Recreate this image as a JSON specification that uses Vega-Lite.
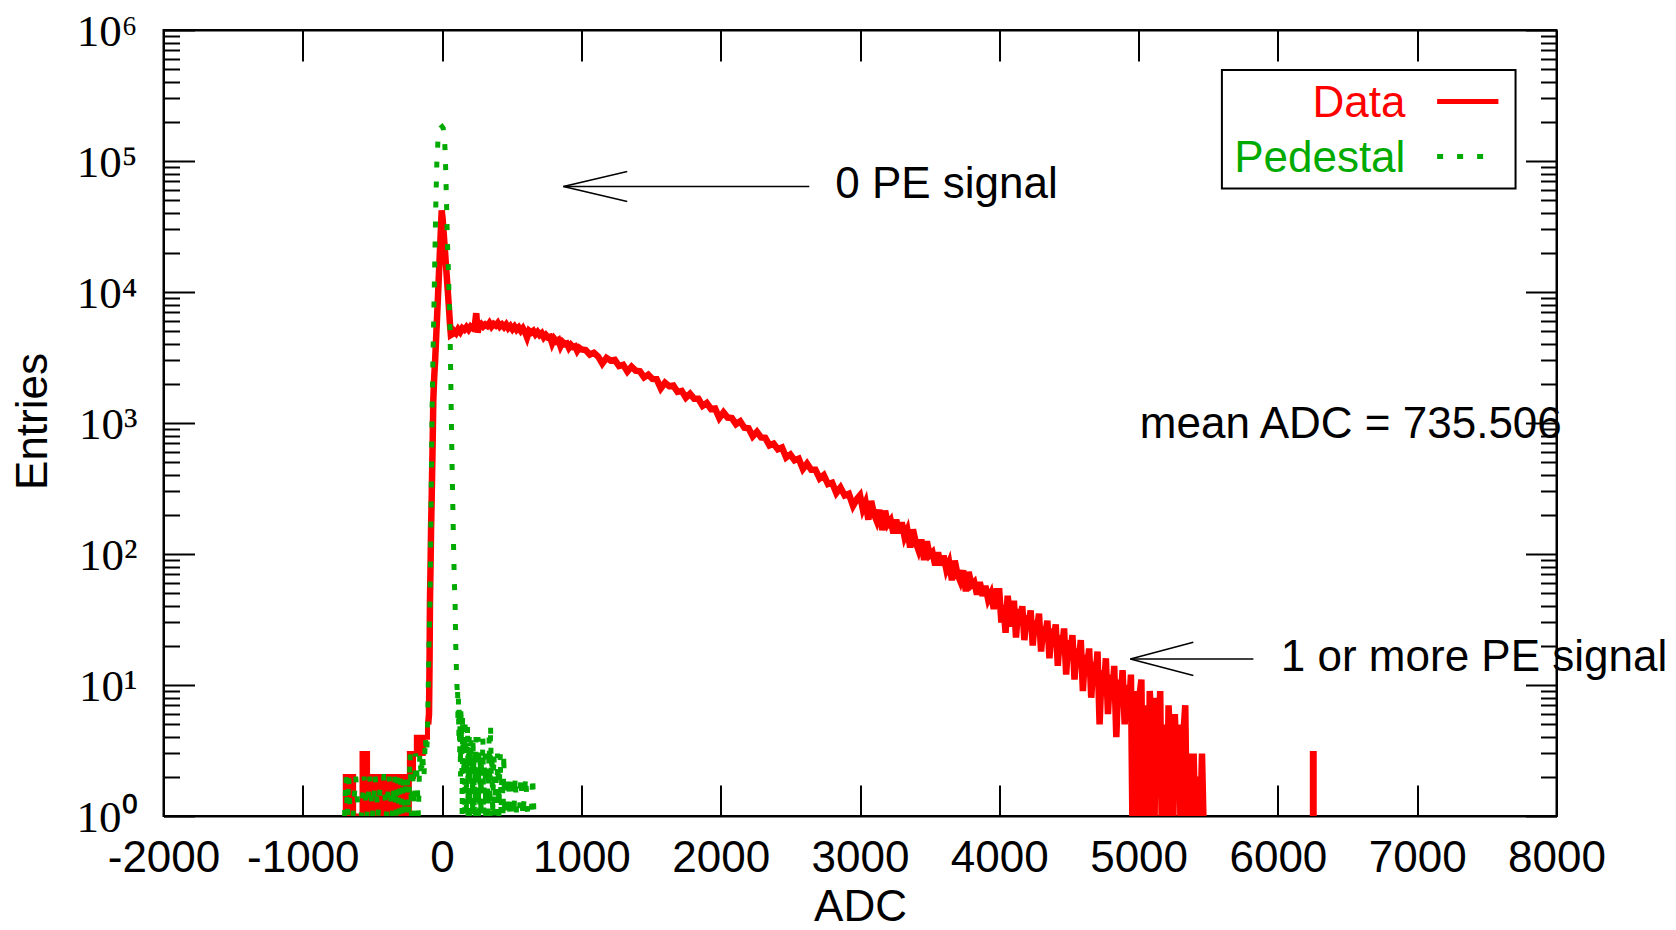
{
  "$schema": "https://vega.github.io/schema/vega-lite/v6.json",
  "autosize": "none",
  "width": 1393,
  "height": 786,
  "padding": {"left": 163.5, "top": 30, "right": 119.5, "bottom": 114},
  "background": "white",
  "config": {
    "view": {"stroke": "#000000", "strokeWidth": 2},
    "axis": {"grid": false, "zindex": 1, "domain": true, "domainColor": "#000000", "domainWidth": 2, "tickColor": "#000000", "tickWidth": 2, "labelColor": "#000000", "titleColor": "#000000", "labelFont": "Liberation Sans", "labelFontSize": 44, "titleFont": "Liberation Sans", "titleFontSize": 44, "titleFontWeight": "normal", "labelOverlap": false, "labelFlush": false}
  },
  "resolve": {"axis": {"x": "independent", "y": "independent"}},
  "datasets": {
    "datalow": [
      {"adc":-700,"n":1},{"adc":-690,"n":2},{"adc":-680,"n":2},{"adc":-670,"n":1},{"adc":-660,"n":2},{"adc":-650,"n":1},{"adc":-640,"n":2},{"adc":-630,"n":1},{"adc":-620,"n":1},{"adc":-610,"n":1},{"adc":-600,"n":1},{"adc":-590,"n":1},{"adc":-580,"n":1},{"adc":-570,"n":3},{"adc":-560,"n":3},{"adc":-550,"n":1},{"adc":-540,"n":3},{"adc":-530,"n":1},{"adc":-520,"n":1},{"adc":-510,"n":2},{"adc":-500,"n":1},{"adc":-490,"n":2},{"adc":-480,"n":2},{"adc":-470,"n":1},{"adc":-460,"n":2},{"adc":-450,"n":2},{"adc":-440,"n":1},{"adc":-430,"n":2},{"adc":-420,"n":2},{"adc":-410,"n":1},{"adc":-400,"n":2},{"adc":-390,"n":2},{"adc":-380,"n":2},{"adc":-370,"n":1},{"adc":-360,"n":2},{"adc":-350,"n":2},{"adc":-340,"n":1},{"adc":-330,"n":2},{"adc":-320,"n":2},{"adc":-310,"n":1},{"adc":-300,"n":2},{"adc":-290,"n":2},{"adc":-280,"n":1},{"adc":-270,"n":2},{"adc":-260,"n":2},{"adc":-250,"n":2},{"adc":-240,"n":1},{"adc":-230,"n":3},{"adc":-220,"n":3},{"adc":-210,"n":2},{"adc":-200,"n":3},{"adc":-190,"n":3},{"adc":-180,"n":4},{"adc":-170,"n":3},{"adc":-160,"n":4},{"adc":-150,"n":4},{"adc":-140,"n":3},{"adc":-130,"n":4},{"adc":-120,"n":4},{"adc":-110,"n":4},{"adc":-100,"n":5}
    ],
    "data": [
      {"adc":-100,"n":5},{"adc":-94,"n":6},{"adc":-90,"n":15},{"adc":-87,"n":44},{"adc":-83,"n":80},{"adc":-79,"n":160},{"adc":-75,"n":257},{"adc":-71,"n":450},{"adc":-67,"n":800},{"adc":-63,"n":1500},{"adc":-57,"n":2200},{"adc":-50,"n":3000},{"adc":-40,"n":5200},{"adc":-30,"n":9000},{"adc":-20,"n":16000},{"adc":-10,"n":28000},{"adc":-3,"n":42000},{"adc":4,"n":36000},{"adc":10,"n":29500},{"adc":20,"n":21000},{"adc":30,"n":14800},{"adc":40,"n":10500},{"adc":50,"n":7300},{"adc":57,"n":5600},{"adc":63,"n":4700},
      {"adc":70,"n":4750},{"adc":85,"n":5050},{"adc":100,"n":4850},{"adc":115,"n":5200},{"adc":130,"n":4950},{"adc":145,"n":5300},{"adc":160,"n":5150},{"adc":175,"n":5400},{"adc":190,"n":5150},{"adc":205,"n":5450},{"adc":220,"n":5300},{"adc":235,"n":5550},{"adc":245,"n":6900},{"adc":255,"n":4900},{"adc":265,"n":5500},{"adc":280,"n":5700},{"adc":295,"n":5450},{"adc":310,"n":5650},{"adc":325,"n":5500},{"adc":340,"n":5800},{"adc":355,"n":5450},{"adc":370,"n":5700},{"adc":385,"n":5550},{"adc":400,"n":5800},{"adc":415,"n":5450},{"adc":430,"n":5650},{"adc":445,"n":5400},{"adc":460,"n":5650},{"adc":475,"n":5300},{"adc":490,"n":5500},{"adc":505,"n":5200},{"adc":520,"n":5450},{"adc":535,"n":5150},{"adc":550,"n":5350},{"adc":565,"n":5050},{"adc":580,"n":5300},{"adc":595,"n":4950},{"adc":610,"n":4500},{"adc":625,"n":5050},{"adc":640,"n":4900},{"adc":655,"n":5050},{"adc":670,"n":4750},{"adc":685,"n":4950},{"adc":700,"n":4700},{"adc":715,"n":4850},{"adc":730,"n":4500},{"adc":745,"n":4700},{"adc":760,"n":4500},{"adc":775,"n":4550},{"adc":790,"n":4050},{"adc":805,"n":4400},{"adc":820,"n":4200},{"adc":835,"n":4300},{"adc":850,"n":3850},{"adc":865,"n":4150},{"adc":880,"n":4000},{"adc":895,"n":4050},{"adc":910,"n":3750},{"adc":925,"n":3950},{"adc":940,"n":3800},{"adc":955,"n":3850},{"adc":970,"n":3550},{"adc":985,"n":3750},{"adc":1000,"n":3650},
      {"adc":1030,"n":3600},{"adc":1060,"n":3330},{"adc":1090,"n":3440},{"adc":1120,"n":3220},{"adc":1150,"n":2840},{"adc":1180,"n":3140},{"adc":1210,"n":2990},{"adc":1240,"n":3030},{"adc":1270,"n":2720},{"adc":1300,"n":2780},{"adc":1330,"n":2470},{"adc":1360,"n":2690},{"adc":1390,"n":2510},{"adc":1420,"n":2480},{"adc":1450,"n":2230},{"adc":1480,"n":2340},{"adc":1510,"n":2170},{"adc":1540,"n":2160},{"adc":1570,"n":1840},{"adc":1600,"n":2030},{"adc":1630,"n":1910},{"adc":1660,"n":1930},{"adc":1690,"n":1730},{"adc":1720,"n":1760},{"adc":1750,"n":1560},{"adc":1780,"n":1670},{"adc":1810,"n":1530},{"adc":1840,"n":1530},{"adc":1870,"n":1350},{"adc":1900,"n":1420},{"adc":1930,"n":1280},{"adc":1960,"n":1290},{"adc":1990,"n":1090},
      {"adc":2020,"n":1205},{"adc":2050,"n":1100},{"adc":2080,"n":1090},{"adc":2110,"n":980},{"adc":2140,"n":1030},{"adc":2170,"n":920},{"adc":2200,"n":912},{"adc":2230,"n":790},{"adc":2260,"n":855},{"adc":2290,"n":775},{"adc":2320,"n":770},{"adc":2350,"n":675},{"adc":2380,"n":695},{"adc":2410,"n":630},{"adc":2440,"n":650},{"adc":2470,"n":545},{"adc":2500,"n":575},{"adc":2530,"n":520},{"adc":2560,"n":535},{"adc":2590,"n":445},{"adc":2620,"n":490},{"adc":2650,"n":440},{"adc":2680,"n":440},{"adc":2710,"n":377},{"adc":2740,"n":400},{"adc":2770,"n":342},{"adc":2800,"n":350},{"adc":2830,"n":292},{"adc":2860,"n":322},{"adc":2890,"n":280},{"adc":2920,"n":288},{"adc":2950,"n":233},{"adc":2980,"n":265},
      {"adc":3000,"n":281},{"adc":3020,"n":220},{"adc":3040,"n":248},{"adc":3060,"n":183},{"adc":3080,"n":254},{"adc":3100,"n":203},{"adc":3120,"n":179},{"adc":3140,"n":217},{"adc":3160,"n":152},{"adc":3180,"n":214},{"adc":3200,"n":169},{"adc":3220,"n":181},{"adc":3240,"n":144},{"adc":3260,"n":183},{"adc":3280,"n":144},{"adc":3300,"n":174},{"adc":3320,"n":135},{"adc":3340,"n":152},{"adc":3360,"n":112},{"adc":3380,"n":154},{"adc":3400,"n":123},{"adc":3420,"n":107},{"adc":3440,"n":129},{"adc":3460,"n":90},{"adc":3480,"n":125},{"adc":3500,"n":98},{"adc":3520,"n":103},{"adc":3540,"n":82},{"adc":3560,"n":103},{"adc":3580,"n":82},{"adc":3600,"n":97},{"adc":3620,"n":76},{"adc":3640,"n":86},{"adc":3660,"n":63},{"adc":3680,"n":89},{"adc":3700,"n":70},{"adc":3720,"n":62},{"adc":3740,"n":75},{"adc":3760,"n":52},{"adc":3780,"n":73},{"adc":3800,"n":58},{"adc":3820,"n":61},{"adc":3840,"n":49},{"adc":3860,"n":61},{"adc":3880,"n":48},{"adc":3900,"n":57},{"adc":3920,"n":45},{"adc":3940,"n":50},{"adc":3960,"n":38},{"adc":3980,"n":52},
      {"adc":4000,"n":52},{"adc":4015,"n":30},{"adc":4030,"n":41},{"adc":4045,"n":25},{"adc":4060,"n":48},{"adc":4075,"n":35},{"adc":4090,"n":28},{"adc":4105,"n":44},{"adc":4120,"n":23},{"adc":4135,"n":38},{"adc":4150,"n":31},{"adc":4165,"n":40},{"adc":4180,"n":22},{"adc":4195,"n":34},{"adc":4210,"n":29},{"adc":4225,"n":37},{"adc":4240,"n":20},{"adc":4255,"n":31},{"adc":4270,"n":26},{"adc":4285,"n":35},{"adc":4300,"n":18},{"adc":4315,"n":28},{"adc":4330,"n":24},{"adc":4345,"n":31},{"adc":4360,"n":16},{"adc":4375,"n":27},{"adc":4390,"n":21},{"adc":4405,"n":29},{"adc":4420,"n":14},{"adc":4435,"n":24},
      {"adc":4450,"n":19},{"adc":4465,"n":27},{"adc":4480,"n":12},{"adc":4495,"n":22},{"adc":4510,"n":17},{"adc":4525,"n":24},{"adc":4540,"n":11},{"adc":4555,"n":19},{"adc":4570,"n":15},{"adc":4585,"n":22},{"adc":4600,"n":9},{"adc":4615,"n":17},{"adc":4630,"n":13},{"adc":4645,"n":19},{"adc":4660,"n":8},{"adc":4675,"n":15},{"adc":4690,"n":11},{"adc":4705,"n":18},{"adc":4720,"n":5},{"adc":4735,"n":13},{"adc":4750,"n":9},{"adc":4765,"n":16},{"adc":4780,"n":6},{"adc":4795,"n":12},{"adc":4810,"n":8},{"adc":4825,"n":14},{"adc":4840,"n":4},{"adc":4855,"n":11},{"adc":4870,"n":7},{"adc":4885,"n":13},{"adc":4900,"n":5},{"adc":4915,"n":10},
      {"adc":4930,"n":6},{"adc":4945,"n":12},{"adc":4955,"n":1},{"adc":4965,"n":1},{"adc":4975,"n":9},{"adc":4985,"n":1},{"adc":4995,"n":1},{"adc":5005,"n":8},{"adc":5020,"n":11},{"adc":5030,"n":1},{"adc":5040,"n":1},{"adc":5050,"n":7},{"adc":5060,"n":1},{"adc":5070,"n":1},{"adc":5080,"n":9},{"adc":5095,"n":4},{"adc":5105,"n":1},{"adc":5115,"n":1},{"adc":5125,"n":8},{"adc":5140,"n":2},{"adc":5155,"n":9},{"adc":5165,"n":1},{"adc":5175,"n":1},{"adc":5185,"n":5},{"adc":5195,"n":1},{"adc":5205,"n":1},{"adc":5215,"n":7},{"adc":5230,"n":3},{"adc":5240,"n":1},{"adc":5250,"n":1},{"adc":5260,"n":6},{"adc":5275,"n":2},{"adc":5290,"n":5},{"adc":5300,"n":1},{"adc":5310,"n":1},{"adc":5320,"n":4},{"adc":5335,"n":7},{"adc":5345,"n":1},{"adc":5355,"n":1},{"adc":5365,"n":3},{"adc":5375,"n":1},{"adc":5385,"n":1},{"adc":5395,"n":3},{"adc":5405,"n":1},{"adc":5415,"n":1},{"adc":5425,"n":2},{"adc":5435,"n":1},{"adc":5445,"n":1},{"adc":5455,"n":3},{"adc":5465,"n":1}
    ],
    "spike": [
      {"adc":6240,"n":1},{"adc":6254,"n":3},{"adc":6268,"n":1}
    ],
    "ped": [
      {"adc":-700,"n":1},{"adc":-690,"n":2},{"adc":-680,"n":1},{"adc":-670,"n":2},{"adc":-660,"n":1},{"adc":-640,"n":1},{"adc":-620,"n":2},{"adc":-600,"n":1},{"adc":-580,"n":1},{"adc":-560,"n":2},{"adc":-540,"n":1},{"adc":-520,"n":2},{"adc":-500,"n":1},{"adc":-480,"n":2},{"adc":-460,"n":1},{"adc":-440,"n":2},{"adc":-420,"n":2},{"adc":-400,"n":1},{"adc":-380,"n":2},{"adc":-360,"n":1},{"adc":-340,"n":2},{"adc":-330,"n":1},{"adc":-320,"n":2},{"adc":-310,"n":1},{"adc":-300,"n":2},{"adc":-290,"n":1},{"adc":-280,"n":2},{"adc":-270,"n":1},{"adc":-260,"n":2},{"adc":-250,"n":2},{"adc":-240,"n":1},{"adc":-230,"n":3},{"adc":-220,"n":1},{"adc":-210,"n":2},{"adc":-200,"n":1},{"adc":-190,"n":3},{"adc":-180,"n":2},{"adc":-170,"n":1},{"adc":-160,"n":3},{"adc":-150,"n":2},{"adc":-140,"n":3},{"adc":-130,"n":2},{"adc":-120,"n":4},{"adc":-114,"n":3},{"adc":-110,"n":3},{"adc":-104,"n":5},
      {"adc":-98,"n":12},{"adc":-92,"n":25},{"adc":-87,"n":44},{"adc":-82,"n":120},{"adc":-76,"n":500},{"adc":-71,"n":1500},{"adc":-64,"n":3800},{"adc":-58,"n":8300},{"adc":-52,"n":18600},{"adc":-46,"n":42000},{"adc":-38,"n":95000},{"adc":-28,"n":158000},{"adc":-18,"n":172000},{"adc":-8,"n":180000},{"adc":0,"n":183000},{"adc":8,"n":178000},{"adc":14,"n":160000},{"adc":20,"n":130000},{"adc":26,"n":85000},{"adc":33,"n":42000},{"adc":39,"n":23000},{"adc":45,"n":14600},{"adc":51,"n":8700},{"adc":57,"n":5100},{"adc":64,"n":1600},{"adc":70,"n":600},{"adc":76,"n":260},{"adc":82,"n":120},{"adc":88,"n":60},{"adc":93,"n":44},{"adc":98,"n":20},{"adc":103,"n":13},{"adc":108,"n":9},
      {"adc":111,"n":10},{"adc":114,"n":5},{"adc":117,"n":8},{"adc":120,"n":4},{"adc":123,"n":7},{"adc":126,"n":3},{"adc":129,"n":6},{"adc":132,"n":2},{"adc":135,"n":7},{"adc":138,"n":4},{"adc":141,"n":5},{"adc":144,"n":1},{"adc":147,"n":6},{"adc":150,"n":3},{"adc":153,"n":5},{"adc":156,"n":2},{"adc":159,"n":4},{"adc":162,"n":1},{"adc":165,"n":5},{"adc":168,"n":2},{"adc":171,"n":4},{"adc":174,"n":1},{"adc":177,"n":3},{"adc":180,"n":2},{"adc":183,"n":5},{"adc":186,"n":1},{"adc":189,"n":3},{"adc":192,"n":2},{"adc":195,"n":4},{"adc":198,"n":1},{"adc":201,"n":3},{"adc":204,"n":2},{"adc":207,"n":4},{"adc":210,"n":1},{"adc":213,"n":2},{"adc":216,"n":3},{"adc":219,"n":1},{"adc":222,"n":4},{"adc":225,"n":2},{"adc":228,"n":3},{"adc":231,"n":1},{"adc":234,"n":2},{"adc":237,"n":3},{"adc":240,"n":1},{"adc":243,"n":4},{"adc":246,"n":2},{"adc":249,"n":1},{"adc":252,"n":3},{"adc":255,"n":2},{"adc":258,"n":4},{"adc":261,"n":1},{"adc":264,"n":3},{"adc":267,"n":2},{"adc":270,"n":1},{"adc":273,"n":3},{"adc":276,"n":2},{"adc":279,"n":1},{"adc":283,"n":3},{"adc":288,"n":2},{"adc":293,"n":4},{"adc":298,"n":1},{"adc":303,"n":2},{"adc":308,"n":3},{"adc":313,"n":1},{"adc":318,"n":2},{"adc":323,"n":3},{"adc":328,"n":1},{"adc":333,"n":2},{"adc":338,"n":4},{"adc":343,"n":1},{"adc":348,"n":5},{"adc":353,"n":2},{"adc":358,"n":3},{"adc":363,"n":1},{"adc":368,"n":2},{"adc":373,"n":3},{"adc":378,"n":1},{"adc":383,"n":2},{"adc":388,"n":2},{"adc":393,"n":1},{"adc":398,"n":3},{"adc":403,"n":2},{"adc":408,"n":1},{"adc":413,"n":2},{"adc":418,"n":3},{"adc":423,"n":1},{"adc":428,"n":2},{"adc":433,"n":2},{"adc":438,"n":1},{"adc":443,"n":3},{"adc":448,"n":1},{"adc":453,"n":2},{"adc":458,"n":1},{"adc":463,"n":2},{"adc":470,"n":1},{"adc":478,"n":2},{"adc":486,"n":1},{"adc":495,"n":1},{"adc":505,"n":2},{"adc":515,"n":1},{"adc":525,"n":2},{"adc":535,"n":1},{"adc":545,"n":1},{"adc":555,"n":1},{"adc":565,"n":2},{"adc":580,"n":1},{"adc":600,"n":2},{"adc":615,"n":1},{"adc":625,"n":1},{"adc":640,"n":1},{"adc":650,"n":2},{"adc":660,"n":1},{"adc":675,"n":1}
    ],
    "arrows": [
      {"adc":871,"n":63900,"adc2":2636,"n2":63900},
      {"adc":871,"n":63900,"adc2":1329,"n2":83200},
      {"adc":871,"n":63900,"adc2":1329,"n2":49000},
      {"adc":4941,"n":15.8,"adc2":5824,"n2":15.8},
      {"adc":4941,"n":15.8,"adc2":5393,"n2":21.2},
      {"adc":4941,"n":15.8,"adc2":5393,"n2":11.8}
    ],
    "notes": [
      {"adc":2822,"n":51760,"label":"0 PE signal"},
      {"adc":6021,"n":12.7,"label":"1 or more PE signal"},
      {"adc":5009,"n":762,"label":"mean ADC = 735.506"}
    ],
    "legendbox": [
      {"adc":5598,"adc2":7706,"n":61660,"n2":495500}
    ],
    "legendtext": [
      {"adc":6915,"n":215900,"series":"Data"},
      {"adc":6915,"n":82200,"series":"Pedestal"}
    ],
    "legendline": [
      {"adc":7143,"adc2":7583,"n":284400,"series":"Data"},
      {"adc":7143,"adc2":7497,"n":108200,"series":"Pedestal"}
    ]
  },
  "layer": [
    {
      "data": {"name": "datalow"},
      "mark": {"type": "line", "color": "#ff0000", "strokeWidth": 5, "interpolate": "step", "clip": true},
      "encoding": {
        "x": {"field": "adc", "type": "quantitative", "scale": {"domain": [-2000, 8000], "nice": false, "zero": false}, "axis": null},
        "y": {"field": "n", "type": "quantitative", "scale": {"type": "log", "domain": [1, 1000000], "nice": false}, "axis": null}
      }
    },
    {
      "data": {"name": "data"},
      "mark": {"type": "line", "color": "#ff0000", "strokeWidth": 6.5, "clip": true},
      "encoding": {
        "x": {"field": "adc", "type": "quantitative", "scale": {"domain": [-2000, 8000], "nice": false, "zero": false},
          "axis": {"orient": "bottom", "values": [-2000,-1000,0,1000,2000,3000,4000,5000,6000,7000,8000], "tickSize": -31, "labelPadding": 51, "labelExpr": "'' + datum.value", "title": "ADC", "titleX": 696.5, "titleY": 104, "titleBaseline": "alphabetic", "titleAlign": "center"}},
        "y": {"field": "n", "type": "quantitative", "scale": {"type": "log", "domain": [1, 1000000], "nice": false},
          "axis": {"orient": "left", "values": [1,10,100,1000,10000,100000,1000000], "tickSize": -31, "labelPadding": 57.5, "labelFont": "Liberation Serif", "labelFontSize": 45, "labelBaseline": "alphabetic", "labelOffset": 15, "labelExpr": "'10' + ['⁰','¹','²','³','⁴','⁵','⁶'][round(log(datum.value)/LN10)]", "title": "Entries", "titleX": -116.8, "titleY": 391, "titleAngle": 270, "titleBaseline": "alphabetic", "titleAlign": "center"}}
      }
    },
    {
      "data": {"name": "spike"},
      "mark": {"type": "line", "color": "#ff0000", "strokeWidth": 5, "interpolate": "step", "clip": true},
      "encoding": {
        "x": {"field": "adc", "type": "quantitative", "scale": {"domain": [-2000, 8000], "nice": false, "zero": false}, "axis": null},
        "y": {"field": "n", "type": "quantitative", "scale": {"type": "log", "domain": [1, 1000000], "nice": false}, "axis": null}
      }
    },
    {
      "data": {"name": "ped"},
      "mark": {"type": "line", "color": "#00aa00", "strokeWidth": 5, "strokeDash": [6, 14], "clip": true},
      "encoding": {
        "x": {"field": "adc", "type": "quantitative", "scale": {"domain": [-2000, 8000], "nice": false, "zero": false},
          "axis": {"orient": "top", "values": [-2000,-1000,0,1000,2000,3000,4000,5000,6000,7000,8000], "tickSize": -31, "labels": false, "title": null}},
        "y": {"field": "n", "type": "quantitative", "scale": {"type": "log", "domain": [1, 1000000], "nice": false},
          "axis": {"orient": "right", "values": [1,10,100,1000,10000,100000,1000000], "tickSize": -31, "labels": false, "title": null}}
      }
    },
    {
      "data": {"name": "arrows"},
      "mark": {"type": "rule", "color": "#000000", "strokeWidth": 1.5},
      "encoding": {
        "x": {"field": "adc", "type": "quantitative", "scale": {"domain": [-2000, 8000], "nice": false, "zero": false}, "axis": null},
        "x2": {"field": "adc2"},
        "y": {"field": "n", "type": "quantitative", "scale": {"type": "log", "domain": [1, 1000000], "nice": false},
          "axis": {"orient": "left", "domain": false, "values": [2,3,4,5,6,7,8,9,20,30,40,50,60,70,80,90,200,300,400,500,600,700,800,900,2000,3000,4000,5000,6000,7000,8000,9000,20000,30000,40000,50000,60000,70000,80000,90000,200000,300000,400000,500000,600000,700000,800000,900000], "tickSize": -16, "labels": false, "title": null}},
        "y2": {"field": "n2"}
      }
    },
    {
      "data": {"name": "notes"},
      "mark": {"type": "text", "align": "left", "baseline": "alphabetic", "font": "Liberation Sans", "fontSize": 44, "color": "#000000"},
      "encoding": {
        "x": {"field": "adc", "type": "quantitative", "scale": {"domain": [-2000, 8000], "nice": false, "zero": false}, "axis": null},
        "y": {"field": "n", "type": "quantitative", "scale": {"type": "log", "domain": [1, 1000000], "nice": false},
          "axis": {"orient": "right", "domain": false, "values": [2,3,4,5,6,7,8,9,20,30,40,50,60,70,80,90,200,300,400,500,600,700,800,900,2000,3000,4000,5000,6000,7000,8000,9000,20000,30000,40000,50000,60000,70000,80000,90000,200000,300000,400000,500000,600000,700000,800000,900000], "tickSize": -16, "labels": false, "title": null}},
        "text": {"field": "label"}
      }
    },
    {
      "data": {"name": "legendbox"},
      "mark": {"type": "rect", "fill": "#ffffff", "stroke": "#000000", "strokeWidth": 2},
      "encoding": {
        "x": {"field": "adc", "type": "quantitative", "scale": {"domain": [-2000, 8000], "nice": false, "zero": false}, "axis": null},
        "x2": {"field": "adc2"},
        "y": {"field": "n", "type": "quantitative", "scale": {"type": "log", "domain": [1, 1000000], "nice": false}, "axis": null},
        "y2": {"field": "n2"}
      }
    },
    {
      "data": {"name": "legendtext"},
      "mark": {"type": "text", "align": "right", "baseline": "alphabetic", "font": "Liberation Sans", "fontSize": 44},
      "encoding": {
        "x": {"field": "adc", "type": "quantitative", "scale": {"domain": [-2000, 8000], "nice": false, "zero": false}, "axis": null},
        "y": {"field": "n", "type": "quantitative", "scale": {"type": "log", "domain": [1, 1000000], "nice": false}, "axis": null},
        "text": {"field": "series"},
        "color": {"field": "series", "type": "nominal", "scale": {"domain": ["Data", "Pedestal"], "range": ["#ff0000", "#00aa00"]}, "legend": null}
      }
    },
    {
      "data": {"name": "legendline"},
      "mark": {"type": "rule", "strokeWidth": 5},
      "encoding": {
        "x": {"field": "adc", "type": "quantitative", "scale": {"domain": [-2000, 8000], "nice": false, "zero": false}, "axis": null},
        "x2": {"field": "adc2"},
        "y": {"field": "n", "type": "quantitative", "scale": {"type": "log", "domain": [1, 1000000], "nice": false}, "axis": null},
        "color": {"field": "series", "type": "nominal", "scale": {"domain": ["Data", "Pedestal"], "range": ["#ff0000", "#00aa00"]}, "legend": null},
        "strokeDash": {"field": "series", "type": "nominal", "scale": {"domain": ["Data", "Pedestal"], "range": [[1, 0], [6, 14]]}, "legend": null}
      }
    }
  ]
}
